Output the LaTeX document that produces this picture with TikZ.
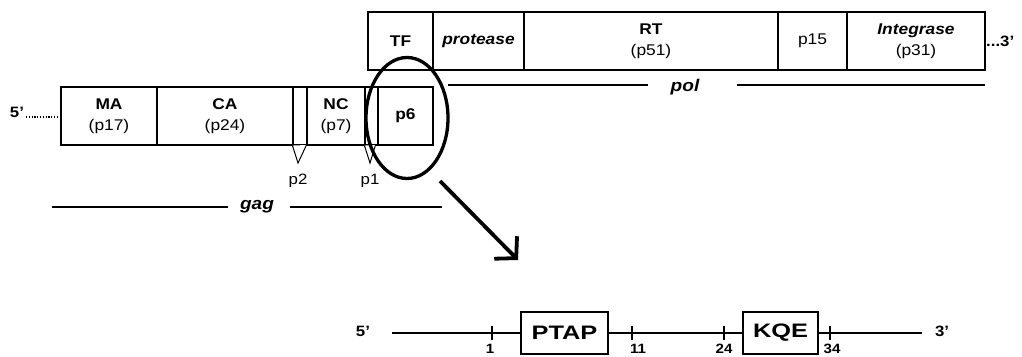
\documentclass[tikz,border=0pt]{standalone}
\usepackage{fontspec}
\setmainfont{Liberation Sans}
\usepackage{graphicx}
\usetikzlibrary{arrows.meta,shapes.geometric,calc}
\newcommand{\wx}[1]{\scalebox{1.12}[1]{#1}}
\newcommand{\wy}[1]{\scalebox{1.3}[1]{#1}}
\tikzset{
  seg/.style={draw, line width=1.1pt, rectangle, inner sep=0pt, minimum height=58pt,
              align=center, font=\fontsize{15.5}{21}\selectfont},
  lbl/.style={inner sep=0pt, font=\fontsize{15}{16}\selectfont},
  genlbl/.style={inner sep=0pt, font=\fontsize{17}{18}\selectfont\bfseries\itshape},
  genline/.style={line width=1.4pt},
  cleave/.style={draw, line width=1pt, fill=white},
  bigbox/.style={draw, line width=1.3pt, rectangle, inner sep=0pt, minimum height=42pt,
                 font=\fontsize{19.5}{21}\selectfont\bfseries},
  axis/.style={line width=1.3pt},
  tick/.style={line width=1.1pt},
  num/.style={inner sep=0pt, font=\fontsize{13.5}{14}\selectfont\bfseries},
  endlbl/.style={inner sep=0pt, font=\fontsize{15}{16}\selectfont\bfseries},
}
\begin{document}
\begin{tikzpicture}[x=1pt, y=-1pt]
\useasboundingbox (0,0) rectangle (1022,356);

% pol polyprotein
\node[seg, minimum width=65pt]  (TF)  at (400.5,41) {\wx{\bfseries TF}};
\node[seg, minimum width=91pt]  (PR)  at (478.5,41) {\wx{\bfseries\itshape protease}};
\node[seg, minimum width=254pt] (RT)  at (651,41)   {\wx{\bfseries RT}\\\wx{(p51)}};
\node[seg, minimum width=69pt]  (P15) at (812.5,41) {\wx{p15}};
\node[seg, minimum width=138pt] (IN)  at (916,41)   {\wx{\bfseries\itshape Integrase}\\\wx{(p31)}};
\node[endlbl, anchor=west] (three) at (986,41) {\wx{...3’}};

% gag polyprotein
\node[seg, minimum width=96pt]  (MA) at (109,116)   {\wx{\bfseries MA}\\\wx{(p17)}};
\node[seg, minimum width=136pt] (CA) at (225,116)   {\wx{\bfseries CA}\\\wx{(p24)}};
\node[seg, minimum width=14pt]  (P2) at (300,116)   {};
\node[seg, minimum width=58pt]  (NC) at (336,116)   {\wx{\bfseries NC}\\\wx{(p7)}};
\node[seg, minimum width=13pt]  (P1) at (371.5,116) {};
\node[seg, minimum width=55pt]  (P6) at (405.5,116) {\wx{\bfseries p6}};
\node[endlbl] (five) at (17,112) {\wx{5’}};
\draw[line width=1.5pt, dash pattern=on 1.2pt off 1.6pt] (26,117) -- (MA.west |- 0,117);

% cleavage sites
\draw[cleave] (P2.south west) -- (298,163) -- (306.5,145);
\draw[cleave] (P1.south west) -- (370,163) -- (375.5,145);
\node[lbl] (p2l) at (298,181) {\wx{p2}};
\node[lbl] (p1l) at (370,181) {\wx{p1}};

% gene labels
\node[genlbl] (gag) at (257,207) {\wx{gag}};
\coordinate (gagL) at (52,207);
\coordinate (gagR) at (442,207);
\draw[genline] (gagL) -- (228,207);
\draw[genline] (290,207) -- (gagR);

\node[genlbl] (pol) at (685,87) {\wx{pol}};
\coordinate (polL) at (448,85);
\coordinate (polR) at (985,85);
\draw[genline] (polL) -- (648,85);
\draw[genline] (737,85) -- (polR);

% highlight
\node[draw, ellipse, line width=3.3pt, minimum width=82pt, minimum height=121pt, inner sep=0pt] (circ) at (407,118) {};
\coordinate (arrS) at (440,181);
\coordinate (arrE) at (518,260);
\draw[line width=3.8pt, -{Straight Barb[length=15pt,width=32pt,line width=3.8pt]}] (arrS) -- (arrE);

% p6 detail
\node[bigbox, minimum width=87pt] (PTAP) at (564.5,333) {\wy{PTAP}};
\node[bigbox, minimum width=75pt] (KQE)  at (780.5,333) {\wy{KQE}};
\node[endlbl] (f5) at (363,331) {\wx{5’}};
\node[endlbl] (t3) at (942,331) {\wx{3’}};
\coordinate (axL) at (392,333);
\coordinate (axR) at (922,333);
\draw[axis] (axL) -- (PTAP.west);
\draw[axis] (PTAP.east) -- (KQE.west);
\draw[axis] (KQE.east) -- (axR);
\foreach \x in {492,632,724,830} \draw[tick] (\x,326) -- (\x,340);
\node[num] (n1)  at (490,349) {\wx{1}};
\node[num] (n11) at (638,349) {\wx{11}};
\node[num] (n24) at (724,349) {\wx{24}};
\node[num] (n34) at (832,349) {\wx{34}};
\end{tikzpicture}
\end{document}
